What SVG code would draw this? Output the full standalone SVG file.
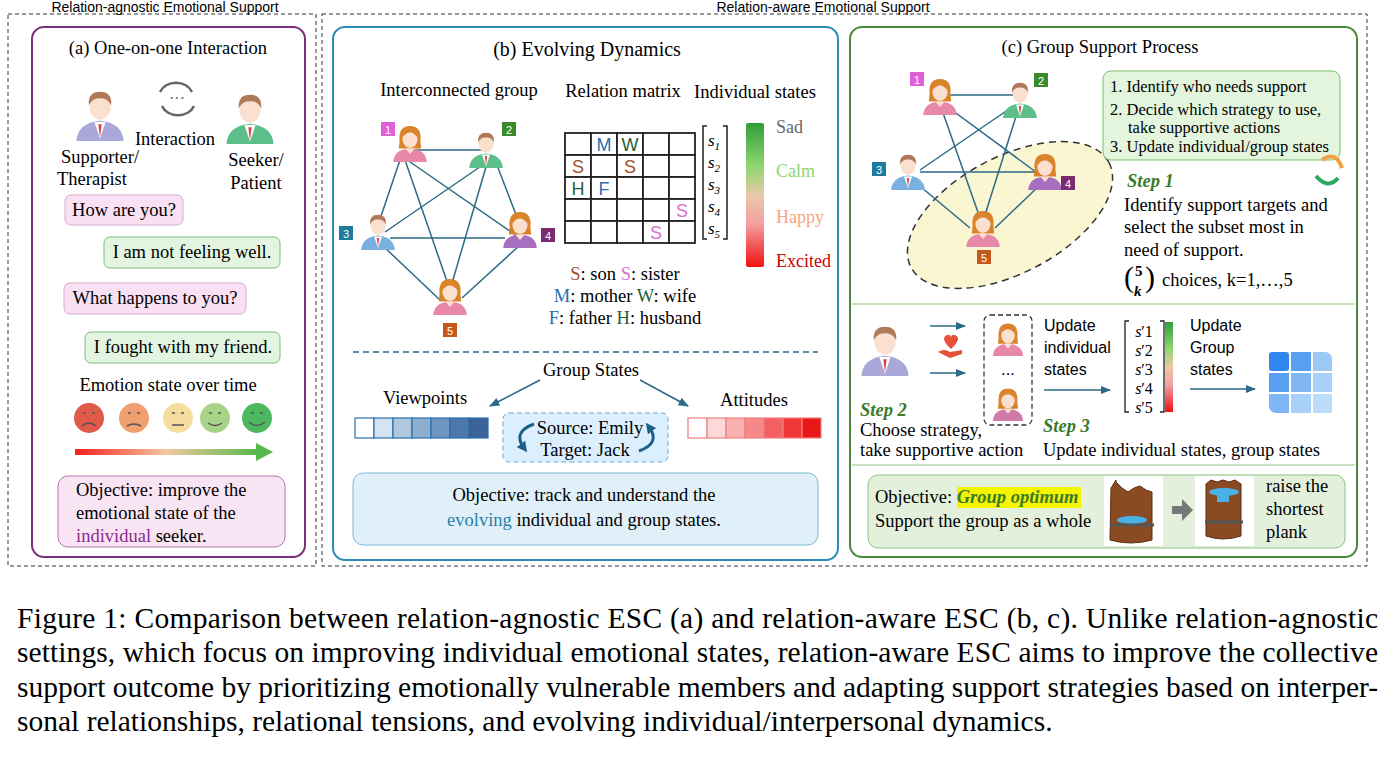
<svg xmlns="http://www.w3.org/2000/svg" width="1397" height="759" viewBox="0 0 1397 759">
<style>
svg{font-family:"Liberation Serif",serif}
.s{font-family:"Liberation Sans",sans-serif}
.t16{font-size:16px}.t17{font-size:18.5px}.t15{font-size:16.5px}
.st{font-weight:bold;font-style:italic;fill:#3a7a2a;font-size:18.5px}
.edge{stroke:#2b6a86;stroke-width:1.5;fill:none}
.cell{fill:#fff;stroke:#222;stroke-width:1.8}
.cap{font-size:29.5px}
</style>
<defs>
<symbol id="fem" viewBox="0 0 50 50">
<path d="M12 24 Q10 5 25 5 Q40 5 38 24 L39 33 L11 33 Z" fill="#d9832b"/>
<path d="M4 50 Q5 34 25 33 Q45 34 46 50 Z" fill="currentColor"/>
<path d="M19 33 L25 40 L31 33 Z" fill="#fbe0cf"/>
<ellipse cx="25" cy="21" rx="9.5" ry="11.5" fill="#fbe0cf"/>
<path d="M15 20 Q16 9 25 9 Q34 9 35 20 Q30 13 25 13 Q19 13 15 20 Z" fill="#d9832b"/>
</symbol>
<symbol id="male" viewBox="0 0 50 50">
<path d="M4 50 Q5 34 25 32 Q45 34 46 50 Z" fill="currentColor"/>
<path d="M20 33 L25 48 L30 33 Z" fill="#fff"/>
<path d="M23.5 35 L25 47 L26.5 35 Z" fill="#d9434a"/>
<ellipse cx="25" cy="19" rx="9.5" ry="12" fill="#fbe0cf"/>
<path d="M15 18 Q14 6 25 6 Q36 6 35 18 Q31 11 25 12 Q19 11 15 18 Z" fill="#b07a5a"/>
</symbol>
<linearGradient id="emo" x1="0" y1="0" x2="0" y2="1">
<stop offset="0" stop-color="#2f9e3a"/><stop offset="0.3" stop-color="#8ed86e"/><stop offset="0.5" stop-color="#e8c8a8"/><stop offset="0.7" stop-color="#f4a0a0"/><stop offset="1" stop-color="#f01010"/></linearGradient>
<linearGradient id="hbar" x1="0" y1="0" x2="1" y2="0">
<stop offset="0" stop-color="#f52020"/><stop offset="0.5" stop-color="#f2c8a0"/><stop offset="1" stop-color="#59b84c"/></linearGradient>
<marker id="ar" viewBox="0 0 10 10" refX="9" refY="5" markerWidth="7" markerHeight="7" orient="auto"><path d="M0 1 L10 5 L0 9 Z" fill="#2b6a86"/></marker>
<marker id="ard" viewBox="0 0 10 10" refX="5" refY="5" markerWidth="3.5" markerHeight="3.5" orient="auto"><path d="M0 0 L10 5 L0 10 Z" fill="#1d5f86"/></marker>
</defs>
<rect width="1397" height="759" fill="#fff"/>

<rect x="8" y="14" width="308" height="552" fill="none" stroke="#333" stroke-dasharray="4 3"/>
<rect x="322" y="14" width="1045" height="552" fill="none" stroke="#333" stroke-dasharray="4 3"/>
<text x="165" y="12" text-anchor="middle" class="s" style="font-size:14px">Relation-agnostic Emotional Support</text>
<text x="823" y="12" text-anchor="middle" class="s" style="font-size:14px">Relation-aware Emotional Support</text>

<g id="panel-a">
<rect x="32" y="27" width="273" height="530" rx="12" fill="none" stroke="#7b2d7e" stroke-width="2"/>
<text x="168" y="54" text-anchor="middle" class="t17">(a) One-on-one Interaction</text>
<use href="#male" x="72" y="85" width="56" height="56" color="#aaa8d8"/>
<use href="#male" x="222" y="88" width="56" height="56" color="#5cbf8a"/>
<path d="M160 92 a17 14 0 0 1 32 0 M194 106 a17 14 0 0 1 -32 0" fill="none" stroke="#666" stroke-width="2.5"/>
<text x="177" y="104" text-anchor="middle" class="t16" fill="#666">···</text>
<text x="175" y="145" text-anchor="middle" class="t17">Interaction</text>
<text x="100" y="163" text-anchor="middle" class="t17">Supporter/</text>
<text x="92" y="185" text-anchor="middle" class="t17">Therapist</text>
<text x="256" y="166" text-anchor="middle" class="t17">Seeker/</text>
<text x="256" y="189" text-anchor="middle" class="t17">Patient</text>
<rect x="65" y="195" width="118" height="30" rx="6" fill="#f9e0f2" stroke="#d8a8cf"/>
<text x="124" y="216" text-anchor="middle" class="t17">How are you?</text>
<rect x="104" y="237" width="176" height="31" rx="6" fill="#e3f5e0" stroke="#7cbf7a"/>
<text x="192" y="258" text-anchor="middle" class="t17">I am not feeling well.</text>
<rect x="64" y="283" width="182" height="31" rx="6" fill="#f9e0f2" stroke="#d8a8cf"/>
<text x="155" y="304" text-anchor="middle" class="t17">What happens to you?</text>
<rect x="85" y="332" width="195" height="31" rx="6" fill="#e3f5e0" stroke="#7cbf7a"/>
<text x="183" y="353" text-anchor="middle" class="t17">I fought with my friend.</text>
<text x="168" y="391" text-anchor="middle" class="t17">Emotion state over time</text>
<g stroke="#555" stroke-width="1.5" fill="none">
<circle cx="89" cy="418" r="15" fill="#e05a4a" stroke="none"/><path d="M82 426 q7 -6 14 0 M83 413 h3 M92 413 h3"/>
<circle cx="134" cy="418" r="15" fill="#f0a070" stroke="none"/><path d="M127 426 q7 -4 14 0 M128 413 h3 M137 413 h3"/>
<circle cx="178" cy="418" r="15" fill="#f7dca0" stroke="none"/><path d="M172 425 h12 M172 413 h3 M181 413 h3"/>
<circle cx="215" cy="418" r="15" fill="#a8d48a" stroke="none"/><path d="M208 423 q7 5 14 0 M209 413 h3 M218 413 h3"/>
<circle cx="257" cy="418" r="15" fill="#4cb860" stroke="none"/><path d="M249 422 q8 7 16 0 M251 413 h3 M260 413 h3"/>
</g>
<rect x="75" y="449" width="182" height="6" fill="url(#hbar)"/>
<path d="M256 443 L273 452 L256 461 Z" fill="#59b84c"/>
<rect x="58" y="476" width="227" height="71" rx="10" fill="#f9e4f3" stroke="#b078aa"/>
<text x="76" y="496" class="t17">Objective: improve the</text>
<text x="76" y="519" class="t17">emotional state of the</text>
<text x="76" y="542" class="t17"><tspan fill="#8b2c8f">individual</tspan> seeker.</text>
</g>

<g id="panel-b">
<rect x="333" y="27" width="505" height="533" rx="12" fill="none" stroke="#2a8bb5" stroke-width="2"/>
<text x="587" y="56" text-anchor="middle" style="font-size:20px">(b) Evolving Dynamics</text>
<text x="459" y="96" text-anchor="middle" class="t17">Interconnected group</text>
<text x="623" y="97" text-anchor="middle" class="t17">Relation matrix</text>
<text x="755" y="98" text-anchor="middle" class="t17">Individual states</text>
</g>
<g id="connectors">
<g class="edge">
<line x1="410" y1="150" x2="490" y2="150"/><line x1="400" y1="160" x2="378" y2="225"/><line x1="400" y1="155" x2="520" y2="238"/><line x1="405" y1="160" x2="450" y2="290"/>
<line x1="490" y1="160" x2="385" y2="232"/><line x1="495" y1="160" x2="520" y2="225"/><line x1="488" y1="160" x2="450" y2="290"/>
<line x1="382" y1="245" x2="440" y2="300"/><line x1="520" y1="245" x2="462" y2="298"/><line x1="390" y1="238" x2="505" y2="238"/>
</g>
<g stroke="#2b6a86" stroke-width="1.5" fill="none" marker-end="url(#ar)">
<line x1="540" y1="380" x2="490" y2="406"/><line x1="640" y1="380" x2="688" y2="406"/>
<line x1="930" y1="326" x2="965" y2="326"/><line x1="930" y1="373" x2="965" y2="373"/>
<line x1="1044" y1="390" x2="1110" y2="390"/><line x1="1190" y1="389" x2="1255" y2="389"/>
</g>
</g>
<g id="b-nodes">
<use href="#fem" x="390" y="122" width="40" height="40" color="#e888a8"/>
<use href="#male" x="466" y="128" width="40" height="40" color="#5cbf8a"/>
<use href="#male" x="358" y="210" width="40" height="40" color="#7ab0e0"/>
<use href="#fem" x="500" y="208" width="40" height="40" color="#a86fc0"/>
<use href="#fem" x="430" y="275" width="40" height="40" color="#e888a8"/>
<rect x="381" y="122" width="14" height="14" fill="#e060d8"/><text x="388" y="134" text-anchor="middle" class="s" style="font-size:11px;fill:#fff">1</text>
<rect x="502" y="122" width="14" height="14" fill="#3a8a2a"/><text x="509" y="134" text-anchor="middle" class="s" style="font-size:11px;fill:#fff">2</text>
<rect x="339" y="226" width="14" height="14" fill="#1d7c9e"/><text x="346" y="238" text-anchor="middle" class="s" style="font-size:11px;fill:#fff">3</text>
<rect x="541" y="228" width="14" height="14" fill="#7a2a6e"/><text x="548" y="240" text-anchor="middle" class="s" style="font-size:11px;fill:#fff">4</text>
<rect x="443" y="323" width="14" height="14" fill="#c4581a"/><text x="450" y="335" text-anchor="middle" class="s" style="font-size:11px;fill:#fff">5</text>
</g>
<g id="matrix">
<g class="cell">
<rect x="565" y="133" width="26" height="22"/><rect x="591" y="133" width="26" height="22"/><rect x="617" y="133" width="26" height="22"/><rect x="643" y="133" width="26" height="22"/><rect x="669" y="133" width="26" height="22"/>
<rect x="565" y="155" width="26" height="22"/><rect x="591" y="155" width="26" height="22"/><rect x="617" y="155" width="26" height="22"/><rect x="643" y="155" width="26" height="22"/><rect x="669" y="155" width="26" height="22"/>
<rect x="565" y="177" width="26" height="22"/><rect x="591" y="177" width="26" height="22"/><rect x="617" y="177" width="26" height="22"/><rect x="643" y="177" width="26" height="22"/><rect x="669" y="177" width="26" height="22"/>
<rect x="565" y="199" width="26" height="22"/><rect x="591" y="199" width="26" height="22"/><rect x="617" y="199" width="26" height="22"/><rect x="643" y="199" width="26" height="22"/><rect x="669" y="199" width="26" height="22"/>
<rect x="565" y="221" width="26" height="22"/><rect x="591" y="221" width="26" height="22"/><rect x="617" y="221" width="26" height="22"/><rect x="643" y="221" width="26" height="22"/><rect x="669" y="221" width="26" height="22"/>
</g>
<g class="s" style="font-size:18px" text-anchor="middle">
<text x="604" y="151" fill="#2a6fae">M</text><text x="630" y="151" fill="#1f5f3a">W</text>
<text x="578" y="173" fill="#a0522d">S</text><text x="630" y="173" fill="#a0522d">S</text>
<text x="578" y="195" fill="#1f5f3a">H</text><text x="604" y="195" fill="#2a6fae">F</text>
<text x="682" y="217" fill="#d870d0">S</text><text x="656" y="239" fill="#d870d0">S</text>
</g>
<path d="M707 126 h-4 v113 h4 M723 126 h4 v113 h-4" fill="none" stroke="#222" stroke-width="1.5"/>
<g style="font-size:17px;font-style:italic" text-anchor="middle">
<text x="714" y="146">s<tspan dy="4" style="font-size:11px">1</tspan></text>
<text x="714" y="168">s<tspan dy="4" style="font-size:11px">2</tspan></text>
<text x="714" y="190">s<tspan dy="4" style="font-size:11px">3</tspan></text>
<text x="714" y="212">s<tspan dy="4" style="font-size:11px">4</tspan></text>
<text x="714" y="234">s<tspan dy="4" style="font-size:11px">5</tspan></text>
</g>
<rect x="746" y="123" width="18" height="144" rx="2" fill="url(#emo)"/>
<text x="776" y="133" style="font-size:18px;fill:#666">Sad</text>
<text x="776" y="177" style="font-size:18px;fill:#8ed86e">Calm</text>
<text x="776" y="223" style="font-size:18px;fill:#f4a582">Happy</text>
<text x="776" y="267" style="font-size:18px;fill:#cc0000">Excited</text>
<text x="625" y="280" text-anchor="middle" class="t17"><tspan fill="#a0522d">S</tspan>: son <tspan fill="#d870d0">S</tspan>: sister</text>
<text x="625" y="302" text-anchor="middle" class="t17"><tspan fill="#2a6fae">M</tspan>: mother <tspan fill="#1f5f3a">W</tspan>: wife</text>
<text x="625" y="324" text-anchor="middle" class="t17"><tspan fill="#2a6fae">F</tspan>: father <tspan fill="#1f5f3a">H</tspan>: husband</text>
</g>
<g id="group-states">
<line x1="353" y1="352" x2="818" y2="352" stroke="#2b6a86" stroke-width="1.5" stroke-dasharray="6 4"/>
<text x="591" y="376" text-anchor="middle" class="t17">Group States</text>
<text x="425" y="404" text-anchor="middle" class="t17">Viewpoints</text>
<text x="754" y="406" text-anchor="middle" class="t17">Attitudes</text>
<g stroke="#2a6fae" stroke-width="1.2">
<rect x="355" y="418" width="19" height="20" fill="#fff"/><rect x="374" y="418" width="19" height="20" fill="#d6e3f0"/><rect x="393" y="418" width="19" height="20" fill="#b0c8e0"/><rect x="412" y="418" width="19" height="20" fill="#8eaed0"/><rect x="431" y="418" width="19" height="20" fill="#6e94c0"/><rect x="450" y="418" width="19" height="20" fill="#4c78ac"/><rect x="469" y="418" width="19" height="20" fill="#3a6498"/>
</g>
<g stroke="#f08080" stroke-width="1.2">
<rect x="688" y="418" width="19" height="20" fill="#fff"/><rect x="707" y="418" width="19" height="20" fill="#fcd8d8"/><rect x="726" y="418" width="19" height="20" fill="#f8b0b0"/><rect x="745" y="418" width="19" height="20" fill="#f58888"/><rect x="764" y="418" width="19" height="20" fill="#f26060"/><rect x="783" y="418" width="19" height="20" fill="#ee3838"/><rect x="802" y="418" width="19" height="20" fill="#e81818"/>
</g>
<rect x="503" y="413" width="165" height="49" rx="6" fill="#dcefff" stroke="#6aa8d8" stroke-dasharray="5 3"/>
<text x="590" y="434" text-anchor="middle" class="t17">Source: Emily</text>
<text x="585" y="456" text-anchor="middle" class="t17">Target:  Jack</text>
<path d="M534 424 q-22 8 -10 24" fill="none" stroke="#1d5f86" stroke-width="3" marker-end="url(#ard)"/>
<path d="M639 451 q22 -8 10 -24" fill="none" stroke="#1d5f86" stroke-width="3" marker-end="url(#ard)"/>
<rect x="353" y="473" width="465" height="72" rx="10" fill="#dff0f8" stroke="#7bbbd8"/>
<text x="584" y="501" text-anchor="middle" class="t17">Objective: track and understand the</text>
<text x="584" y="526" text-anchor="middle" class="t17"><tspan fill="#2a7fa8">evolving</tspan> individual and group states.</text>
</g>

<g id="panel-c">
<rect x="850" y="27" width="507" height="530" rx="12" fill="none" stroke="#4a8a3a" stroke-width="2"/>
<text x="1100" y="53" text-anchor="middle" class="t17">(c) Group Support Process</text>
<ellipse cx="1010" cy="215" rx="112" ry="58" transform="rotate(-28 1010 215)" fill="#fbf6d2" stroke="#333" stroke-width="1.5" stroke-dasharray="7 5"/>
<g class="edge">
<line x1="942" y1="95" x2="1018" y2="95"/><line x1="945" y1="105" x2="1040" y2="175"/><line x1="1015" y1="105" x2="920" y2="170"/><line x1="942" y1="110" x2="980" y2="218"/><line x1="1018" y1="110" x2="985" y2="215"/><line x1="920" y1="172" x2="1035" y2="172"/><line x1="915" y1="182" x2="970" y2="228"/><line x1="1040" y1="185" x2="995" y2="228"/>
</g>
<use href="#fem" x="920" y="75" width="40" height="40" color="#e888a8"/>
<use href="#male" x="1000" y="78" width="40" height="40" color="#5cbf8a"/>
<use href="#male" x="888" y="150" width="40" height="40" color="#7ab0e0"/>
<use href="#fem" x="1025" y="150" width="40" height="40" color="#a86fc0"/>
<use href="#fem" x="963" y="207" width="40" height="40" color="#e888a8"/>
<rect x="910" y="72" width="14" height="14" fill="#e060d8"/><text x="917" y="84" text-anchor="middle" class="s" style="font-size:11px;fill:#fff">1</text>
<rect x="1034" y="73" width="14" height="14" fill="#3a8a2a"/><text x="1041" y="85" text-anchor="middle" class="s" style="font-size:11px;fill:#fff">2</text>
<rect x="872" y="162" width="14" height="14" fill="#1d7c9e"/><text x="879" y="174" text-anchor="middle" class="s" style="font-size:11px;fill:#fff">3</text>
<rect x="1061" y="176" width="14" height="14" fill="#7a2a6e"/><text x="1068" y="188" text-anchor="middle" class="s" style="font-size:11px;fill:#fff">4</text>
<rect x="977" y="250" width="14" height="14" fill="#c4581a"/><text x="984" y="262" text-anchor="middle" class="s" style="font-size:11px;fill:#fff">5</text>
<rect x="1103" y="71" width="237" height="89" rx="8" fill="#e3f5dc" stroke="#7cbf6a"/>
<text x="1110" y="92" class="t15">1. Identify who needs support</text>
<text x="1110" y="115" class="t15">2. Decide which strategy to use,</text>
<text x="1128" y="133" class="t15">take supportive actions</text>
<text x="1110" y="152" class="t15">3. Update individual/group states</text>
<path d="M1322 160 q14 -10 20 8" fill="none" stroke="#f0a040" stroke-width="4"/>
<path d="M1338 178 q-10 12 -22 -2" fill="none" stroke="#2aa860" stroke-width="4"/>
<text x="1127" y="187" class="st">Step 1</text>
<text x="1124" y="211" class="t17">Identify support targets and</text>
<text x="1124" y="233" class="t17">select the subset most in</text>
<text x="1124" y="256" class="t17">need of support.</text>
<text x="1124" y="287" style="font-size:30px;font-weight:300">(</text>
<text x="1135" y="276" style="font-size:15px;font-weight:bold">5</text>
<text x="1134" y="296" style="font-size:15px;font-weight:bold;font-style:italic">k</text>
<text x="1145" y="287" style="font-size:30px;font-weight:300">)</text>
<text x="1162" y="286" class="t17">choices, k=1,…,5</text>
<line x1="852" y1="304" x2="1355" y2="304" stroke="#c8e0c0" stroke-width="2"/>
<use href="#male" x="857" y="320" width="56" height="56" color="#aaa8d8"/>
<path d="M947 345 q-6 -8 0 -10 q3 -1 4 2 q1 -3 4 -2 q6 2 0 10 l-4 4 Z M938 352 q6 -4 12 0 l12 -2 v4 l-12 4 Z" fill="#e8503a"/>
<rect x="984" y="315" width="48" height="110" rx="6" fill="none" stroke="#333" stroke-width="1.3" stroke-dasharray="5 3"/>
<use href="#fem" x="990" y="320" width="36" height="36" color="#e888a8"/>
<use href="#fem" x="990" y="385" width="36" height="36" color="#d07aa8"/>
<text x="1008" y="375" text-anchor="middle" class="s t15">...</text>
<text x="1044" y="331" class="s t16">Update</text>
<text x="1044" y="353" class="s t16">individual</text>
<text x="1044" y="375" class="s t16">states</text>
<path d="M1129 321 h-4 v91 h4 M1160 321 h4 v91 h-4" fill="none" stroke="#222" stroke-width="1.3"/>
<g style="font-size:16px" text-anchor="middle">
<text x="1144" y="337"><tspan font-style="italic">s</tspan>′1</text>
<text x="1144" y="356"><tspan font-style="italic">s</tspan>′2</text>
<text x="1144" y="375"><tspan font-style="italic">s</tspan>′3</text>
<text x="1144" y="394"><tspan font-style="italic">s</tspan>′4</text>
<text x="1144" y="413"><tspan font-style="italic">s</tspan>′5</text>
</g>
<rect x="1165" y="322" width="8" height="90" fill="url(#emo)"/>
<text x="1190" y="331" class="s t16">Update</text>
<text x="1190" y="353" class="s t16">Group</text>
<text x="1190" y="375" class="s t16">states</text>
<g>
<rect x="1269" y="352" width="20" height="19" rx="3" fill="#2f86ef"/><rect x="1291" y="352" width="20" height="19" fill="#5aa0f2"/><path d="M1313 352 h12 a7 7 0 0 1 7 7 v12 h-19 Z" fill="#9cc8f6"/>
<rect x="1269" y="373" width="20" height="19" fill="#5aa0f2"/><rect x="1291" y="373" width="20" height="19" fill="#80b6f4"/><rect x="1313" y="373" width="19" height="19" fill="#a8d0f8"/>
<path d="M1269 394 h20 v19 h-13 a7 7 0 0 1 -7 -7 Z" fill="#80b6f4"/><rect x="1291" y="394" width="20" height="19" fill="#a8d0f8"/><rect x="1313" y="394" width="19" height="19" fill="#bcdcfa"/>
</g>
<text x="860" y="416" class="st">Step 2</text>
<text x="860" y="436" class="t17">Choose strategy,</text>
<text x="860" y="456" class="t17">take supportive action</text>
<text x="1043" y="432" class="st">Step 3</text>
<text x="1043" y="456" class="t17">Update individual states, group states</text>
<line x1="852" y1="465" x2="1355" y2="465" stroke="#c8e0c0" stroke-width="2"/>
<rect x="868" y="475" width="477" height="73" rx="10" fill="#e3f1dc" stroke="#8fc080"/>
<rect x="957" y="487" width="124" height="21" fill="#f5f500"/>
<text x="875" y="503" class="t17">Objective: <tspan class="st" style="fill:#3a7a2a">Group optimum</tspan></text>
<text x="875" y="527" class="t17">Support the group as a whole</text>
<rect x="1104" y="476" width="59" height="70" fill="#fff"/>
<rect x="1195" y="476" width="59" height="70" fill="#fff"/>
<path d="M1111 488 l5 -8 v2 l6 6 l6 4 l6 -4 l6 -2 l6 4 l6 2 v48 q-21 6 -42 0 Z" fill="#8a4a22" stroke="#5a2e12"/>
<ellipse cx="1132" cy="520" rx="15" ry="4" fill="#4ab0e8"/>
<path d="M1110 525 h44" stroke="#555" stroke-width="3"/>
<path d="M1206 484 l5 -4 l6 2 l6 -2 l6 2 l6 -2 l6 4 v52 q-18 6 -35 0 Z" fill="#8a4a22" stroke="#5a2e12"/>
<ellipse cx="1224" cy="492" rx="15" ry="4" fill="#4ab0e8"/>
<rect x="1217" y="492" width="12" height="10" fill="#4ab0e8"/>
<path d="M1205 522 h38" stroke="#555" stroke-width="3"/>
<path d="M1172 506 h10 v-7 l11 11 l-11 11 v-7 h-10 Z" fill="#777"/>
<text x="1266" y="492" class="t17">raise the</text>
<text x="1266" y="515" class="t17">shortest</text>
<text x="1266" y="538" class="t17">plank</text>
</g>

<g id="caption" class="cap">
<text x="17" y="628" textLength="1361" lengthAdjust="spacing">Figure 1: Comparison between relation-agnostic ESC (a) and relation-aware ESC (b, c). Unlike relation-agnostic</text>
<text x="17" y="662" textLength="1361" lengthAdjust="spacing">settings, which focus on improving individual emotional states, relation-aware ESC aims to improve the collective</text>
<text x="17" y="697" textLength="1361" lengthAdjust="spacing">support outcome by prioritizing emotionally vulnerable members and adapting support strategies based on interper-</text>
<text x="17" y="731">sonal relationships, relational tensions, and evolving individual/interpersonal dynamics.</text>
</g>
</svg>
